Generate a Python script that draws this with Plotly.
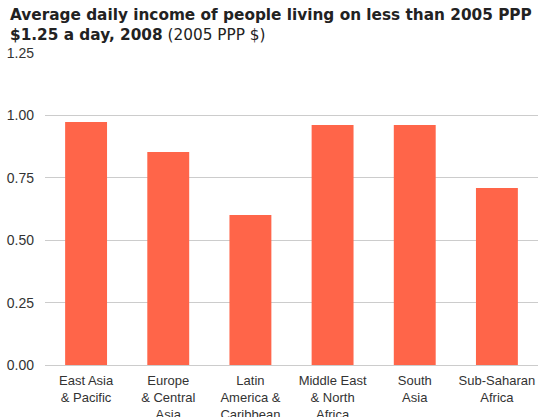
import plotly.graph_objects as go

categories = ["East Asia<br>& Pacific", "Europe<br>& Central<br>Asia", "Latin<br>America &<br>Caribbean",
              "Middle East<br>& North<br>Africa", "South<br>Asia", "Sub-Saharan<br>Africa"]
values = [0.974, 0.853, 0.601, 0.962, 0.962, 0.709]
tick_vals = [0, 0.25, 0.5, 0.75, 1.0, 1.25]
tick_text = ["0.00", "0.25", "0.50", "0.75", "1.00", "1.25"]

fig = go.Figure(go.Bar(x=categories, y=values, marker_color="#FF6549", marker_line_width=0,
                       width=0.51))

fig.update_layout(
    width=548, height=417,
    margin=dict(l=45, r=10, t=53, b=52),
    plot_bgcolor="white", paper_bgcolor="white",
    font=dict(family="Liberation Sans, Arial, sans-serif", color="#333"),
    showlegend=False,
    annotations=[dict(
        text="<b>Average daily income of people living on less than 2005 PPP<br>$1.25 a day, 2008</b> (2005 PPP $)",
        xref="paper", yref="paper", x=-0.075, y=1.157, xanchor="left", yanchor="top",
        align="left", showarrow=False,
        font=dict(family="DejaVu Sans, sans-serif", size=15.3, color="#222"),
    )],
)
fig.update_yaxes(range=[0, 1.25], tickvals=tick_vals, ticktext=tick_text,
                 showgrid=True, gridcolor="#cccccc", gridwidth=1,
                 zeroline=True, zerolinecolor="#cccccc", zerolinewidth=1,
                 tickfont=dict(size=14, color="#333"), ticklabelstandoff=10,
                 automargin=False, fixedrange=True)
fig.update_xaxes(tickfont=dict(family="Liberation Sans, Arial, sans-serif", size=13, color="#333"),
                 showline=False, ticks="", ticklabelstandoff=6, automargin=False)

fig.write_html("out.html", config={"displayModeBar": False},
               post_script="document.body.style.margin='0';document.body.style.padding='0';")
